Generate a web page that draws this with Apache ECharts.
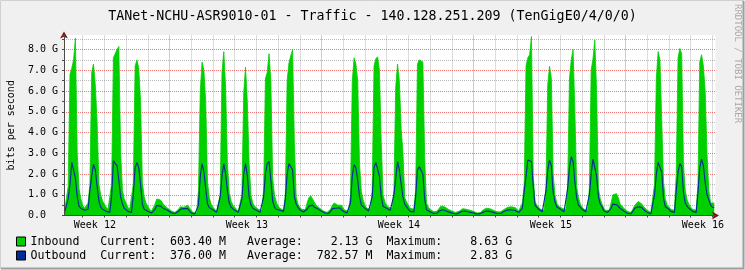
<!DOCTYPE html>
<html><head><meta charset="utf-8">
<script src="https://cdn.jsdelivr.net/npm/echarts@6/dist/echarts.min.js"></script>
<style>html,body{margin:0;padding:0;background:#f0f0f0}#c{width:745px;height:270px}</style>
</head><body><div id="c"></div>
<script>
const TITLE = 'TANet-NCHU-ASR9010-01 - Traffic - 140.128.251.209 (TenGigE0/4/0/0)';
const Y_AXIS_NAME = 'bits per second';
const WATERMARK = 'RRDTOOL / TOBI OETIKER';
// time axis in hours (0 = midnight of first day shown)
const X_MIN = 3.4, X_MAX = 723.4;
const START_HOUR = 4, STEP_HOURS = 2;
const Y_MAX = 8.7, Y_STEP = 0.5;

// Gbit/s, one value every 2 hours
const inbound = [
0.2,0.25,1.4,6.8,7.1,7.5,8.55,3.0,1.3,0.8,
0.5,0.35,0.3,0.6,1.5,6.9,7.3,6.3,4.5,1.5,1.0,0.7,
0.55,0.4,0.3,0.3,1.5,7.6,7.8,8.0,8.15,3.0,1.2,0.8,
0.6,0.4,0.3,0.3,1.5,7.2,7.5,7.1,5.5,1.6,0.9,0.6,
0.45,0.3,0.2,0.2,0.55,0.8,0.8,0.75,0.7,0.5,0.45,0.35,
0.3,0.22,0.18,0.15,0.18,0.3,0.42,0.5,0.4,0.38,0.5,0.45,
0.25,0.15,0.1,0.12,1.2,6.0,7.4,7.0,5.5,1.6,0.85,0.55,
0.4,0.3,0.2,0.2,1.0,6.9,7.9,6.2,2.5,1.1,0.7,0.5,
0.4,0.3,0.2,0.2,1.0,5.9,7.15,5.5,2.5,1.0,0.6,0.45,
0.4,0.3,0.25,0.25,1.2,6.6,6.9,7.8,6.5,1.8,1.0,0.65,
0.45,0.35,0.28,0.25,1.0,6.5,7.35,7.7,8.0,3.5,0.9,0.55,
0.4,0.3,0.25,0.28,0.6,0.85,0.95,0.92,0.65,0.5,0.42,0.35,
0.28,0.22,0.18,0.15,0.18,0.3,0.5,0.6,0.55,0.5,0.58,0.5,
0.35,0.25,0.2,0.2,1.0,6.5,7.6,7.3,6.5,2.5,1.15,0.75,
0.5,0.35,0.3,0.3,1.2,7.2,7.55,7.65,7.0,3.5,1.0,0.65,
0.5,0.4,0.35,0.35,1.2,6.2,7.3,6.5,4.2,3.0,0.85,0.65,
0.5,0.35,0.3,0.3,1.2,7.3,7.5,7.5,7.4,2.8,0.6,0.4,
0.3,0.22,0.18,0.18,0.22,0.35,0.45,0.47,0.42,0.35,0.3,0.27,
0.22,0.18,0.15,0.15,0.2,0.28,0.33,0.37,0.3,0.28,0.25,0.22,
0.2,0.15,0.12,0.12,0.15,0.25,0.3,0.35,0.37,0.33,0.3,0.25,
0.22,0.18,0.15,0.18,0.25,0.3,0.36,0.4,0.42,0.42,0.42,0.38,
0.3,0.22,0.18,0.6,1.5,7.2,7.6,7.75,8.63,1.9,0.65,0.5,
0.4,0.3,0.25,0.25,1.3,6.3,7.2,6.6,2.0,1.0,0.6,0.45,
0.45,0.35,0.28,0.28,1.4,6.6,7.5,8.0,5.0,1.4,0.85,0.55,
0.4,0.3,0.25,0.25,1.3,7.0,7.55,8.45,6.0,1.3,0.8,0.55,
0.35,0.25,0.2,0.25,0.6,1.0,1.0,1.05,0.85,0.55,0.48,0.35,
0.28,0.2,0.15,0.15,0.3,0.48,0.55,0.68,0.65,0.55,0.42,0.33,
0.25,0.18,0.15,0.15,1.5,6.6,7.9,7.5,7.5,1.6,0.8,0.5,
0.4,0.3,0.25,0.25,2.0,7.6,8.05,7.8,2.5,1.2,0.75,0.55,
0.4,0.3,0.25,0.25,1.5,7.4,7.75,7.2,6.0,3.0,1.2,0.6,
0.6,0.6034
];
const outbound = [
0.15,0.15,0.8,1.5,2.56,2.56,1.8,0.9,0.45,0.35,
0.3,0.25,0.2,0.3,1.2,1.9,2.47,2.2,1.4,0.7,0.4,0.3,
0.25,0.2,0.15,0.15,0.9,2.65,2.5,2.4,1.7,0.9,0.55,0.35,
0.3,0.2,0.15,0.15,1.0,2.3,2.56,2.3,1.5,0.55,0.3,0.22,
0.2,0.15,0.12,0.12,0.3,0.48,0.5,0.45,0.4,0.32,0.3,0.25,
0.18,0.13,0.1,0.1,0.12,0.2,0.3,0.35,0.33,0.32,0.33,0.28,
0.12,0.1,0.08,0.08,0.5,1.9,2.5,2.1,1.3,0.55,0.38,0.32,
0.28,0.2,0.15,0.15,0.9,1.9,2.5,2.0,1.2,0.6,0.4,0.33,
0.25,0.18,0.15,0.15,0.8,2.0,2.5,1.9,0.9,0.5,0.35,0.3,
0.25,0.2,0.15,0.15,0.9,2.0,2.5,2.6,1.7,0.7,0.4,0.3,
0.3,0.25,0.2,0.2,0.8,2.0,2.5,2.35,2.2,0.9,0.55,0.4,
0.28,0.2,0.17,0.17,0.3,0.45,0.5,0.5,0.4,0.38,0.32,0.27,
0.2,0.15,0.12,0.1,0.1,0.2,0.33,0.38,0.35,0.32,0.37,0.3,
0.2,0.15,0.12,0.12,0.6,1.9,2.45,2.3,1.7,0.9,0.5,0.42,
0.35,0.28,0.22,0.22,0.9,2.3,2.56,2.5,1.9,0.9,0.45,0.4,
0.35,0.3,0.25,0.25,1.0,1.8,2.6,2.2,1.5,0.9,0.55,0.5,
0.3,0.2,0.17,0.17,0.9,2.2,2.35,2.35,2.0,0.8,0.28,0.22,
0.18,0.13,0.1,0.1,0.12,0.22,0.27,0.28,0.25,0.22,0.18,0.15,
0.13,0.1,0.08,0.08,0.1,0.18,0.22,0.22,0.2,0.18,0.16,0.14,
0.12,0.09,0.07,0.07,0.08,0.15,0.2,0.22,0.22,0.2,0.18,0.15,
0.12,0.1,0.08,0.1,0.15,0.2,0.25,0.27,0.28,0.28,0.27,0.24,
0.2,0.15,0.12,0.35,1.2,1.9,2.67,2.67,2.6,1.4,0.5,0.42,
0.3,0.22,0.18,0.2,1.2,2.2,2.67,2.4,1.1,0.65,0.42,0.38,
0.3,0.22,0.18,0.2,1.3,2.3,2.83,2.6,1.6,0.85,0.5,0.4,
0.3,0.22,0.18,0.18,1.0,2.0,2.72,2.7,1.9,0.9,0.55,0.42,
0.22,0.17,0.14,0.15,0.35,0.55,0.55,0.52,0.45,0.35,0.3,0.22,
0.15,0.11,0.09,0.09,0.2,0.35,0.42,0.42,0.42,0.38,0.28,0.2,
0.15,0.1,0.08,0.1,1.0,2.0,2.56,2.56,2.1,0.8,0.42,0.35,
0.3,0.2,0.15,0.15,1.2,2.1,2.5,2.35,1.1,0.6,0.45,0.35,
0.3,0.2,0.15,0.15,1.1,2.3,2.72,2.4,1.6,1.0,0.75,0.5,
0.4,0.376
];

const weekLabels = ['Week 12','Week 13','Week 14','Week 15','Week 16'];
const weekLabelHours = [37.5, 205.5, 373.5, 541.5, 709.5];
const weekLineHours = [120, 288, 456, 624];
const dayLineHours = [24,48,72,96,144,168,192,216,240,264,312,336,360,384,408,432,480,504,528,552,576,600,648,672,696,720];

const seriesNames = ['Inbound','Outbound'];
const currentVals = ['603.40 M','376.00 M'];
const averageVals = ['2.13 G','782.57 M'];
const maximumVals = ['8.63 G','2.83 G'];

const MONO = "'DejaVu Sans Mono', monospace";
const GRID_MINOR = 'rgba(130,130,130,0.55)';
const GRID_MAJOR = 'rgba(235,70,70,0.75)';
const AXIS_COL = '#4a4a4a';
const ARROW_COL = '#801010';
const IN_COL = '#00CF00', OUT_COL = '#002A97';

function padEnd(s,n){s=String(s);while(s.length<n)s+=' ';return s;}
function padStart(s,n){s=String(s);while(s.length<n)s=' '+s;return s;}
const toPairs = arr => arr.map((v,i)=>[START_HOUR + i*STEP_HOURS, v]);
const legendText = name => {const i=seriesNames.indexOf(name);
  return padEnd(name,10)+'Current:'+padStart(currentVals[i],10)+'   Average:'+padStart(averageVals[i],10)+'  Maximum:'+padStart(maximumVals[i],10);};
const makeLegend = (i, top) => ({
  data:[seriesNames[i]], left:16, top:top, orient:'vertical', padding:0, itemWidth:9, itemHeight:9, itemGap:0,
  icon:'rect', selectedMode:false,
  itemStyle:{borderColor:'#000', borderWidth:1},
  textStyle:{fontFamily:MONO, fontSize:11.6, color:'#000', lineHeight:14},
  formatter:legendText
});

const chart = echarts.init(document.getElementById('c'), null, {renderer:'canvas'});
const dash = [1,1];
const gridLines = [].concat(
  dayLineHours.map(h=>({xAxis:h, lineStyle:{color:GRID_MINOR, type:dash, width:1}})),
  weekLineHours.map(h=>({xAxis:h, lineStyle:{color:GRID_MAJOR, type:dash, width:1}}))
);
const baseX = {type:'value', min:X_MIN, max:X_MAX, position:'bottom', axisLine:{onZero:false}};
const baseY = {type:'value', min:0, max:Y_MAX, interval:Y_STEP, position:'left'};

chart.setOption({
  animation:false,
  backgroundColor:'#f0f0f0',
  textStyle:{fontFamily:MONO},
  title:{text:TITLE, left:'center', top:5, textStyle:{fontFamily:MONO, fontSize:13.3, fontWeight:'normal', color:'#000'}},
  grid:{left:64, right:29.5, top:35, bottom:54.5, containLabel:false, outerBoundsMode:'none',
        show:true, backgroundColor:'#ffffff', borderWidth:0},
  legend:[makeLegend(0, 234.5), makeLegend(1, 248.5)],
  xAxis:[
    Object.assign({}, baseX, {z:0, axisLine:{show:false,onZero:false}, axisTick:{show:false}, axisLabel:{show:false}, splitLine:{show:false}}),
    Object.assign({}, baseX, {z:4, axisLine:{show:true,onZero:false, lineStyle:{color:ARROW_COL,width:1}, symbol:['none','arrow'], symbolSize:[6,7], symbolOffset:[0,3.5]}, axisTick:{show:false}, axisLabel:{show:false}, splitLine:{show:false}}),
    Object.assign({}, baseX, {z:5, axisLine:{show:true,onZero:false, lineStyle:{color:AXIS_COL,width:1}},
      axisTick:{show:true, customValues:dayLineHours.concat(weekLineHours), length:2, lineStyle:{color:AXIS_COL}},
      axisLabel:{show:true, customValues:weekLabelHours, margin:5, fontFamily:MONO, fontSize:10, color:'#000',
        formatter:v=>{const i=weekLabelHours.findIndex(h=>Math.abs(h-v)<0.01);return i>=0?weekLabels[i]:'';}},
      splitLine:{show:false}})
  ],
  yAxis:[
    Object.assign({}, baseY, {z:0, axisLine:{show:false}, axisTick:{show:false}, axisLabel:{show:false},
      splitLine:{show:true, showMinLine:false, showMaxLine:false, lineStyle:{color:[GRID_MINOR, GRID_MAJOR], type:dash, width:1}}}),
    Object.assign({}, baseY, {z:4, axisLine:{show:true, lineStyle:{color:ARROW_COL,width:1}, symbol:['none','arrow'], symbolSize:[6,7], symbolOffset:[0,3.5]}, axisTick:{show:false}, axisLabel:{show:false}, splitLine:{show:false}}),
    Object.assign({}, baseY, {z:5, axisLine:{show:true, lineStyle:{color:AXIS_COL,width:1}},
      axisTick:{show:true, length:2, lineStyle:{color:AXIS_COL}},
      axisLabel:{show:true, margin:6, fontFamily:MONO, fontSize:10, color:'#000',
        formatter:v=>{ if (Math.abs(v-Math.round(v))>1e-6 || v>Y_MAX-0.15) return ''; return v===0 ? '0.0  ' : v.toFixed(1)+' G'; }},
      splitLine:{show:false},
      name:Y_AXIS_NAME, nameLocation:'middle', nameGap:48, nameTextStyle:{fontFamily:MONO, fontSize:10, color:'#000'}})
  ],
  graphic:[
    {type:'text', x:742, y:4, rotation:-Math.PI/2, silent:true,
     style:{text:WATERMARK, font:"9px 'DejaVu Sans Mono'", fill:'#a9a9a9', textAlign:'left', textVerticalAlign:'top'}},
    {type:'polyline', silent:true, shape:{points:[[0.5,269],[0.5,0.5],[744,0.5]]}, style:{stroke:'#d0d0d0', lineWidth:1, fill:null}},
    {type:'polyline', silent:true, shape:{points:[[1,268.5],[743.5,268.5],[743.5,1]]}, style:{stroke:'#9e9e9e', lineWidth:2, fill:null}}
  ],
  series:[
    {name:seriesNames[0], type:'line', xAxisIndex:0, yAxisIndex:0, data:toPairs(inbound), showSymbol:false, symbol:'none',
     color:IN_COL, lineStyle:{width:0.8, color:IN_COL}, areaStyle:{color:IN_COL, opacity:1}, z:2,
     emphasis:{disabled:true},
     markLine:{silent:true, symbol:['none','none'], z:1, label:{show:false}, emphasis:{disabled:true}, data:gridLines}},
    {name:seriesNames[1], type:'line', xAxisIndex:0, yAxisIndex:0, data:toPairs(outbound), showSymbol:false, symbol:'none',
     color:OUT_COL, lineStyle:{width:1.1, color:OUT_COL}, z:3, emphasis:{disabled:true}}
  ]
});
</script></body></html>
